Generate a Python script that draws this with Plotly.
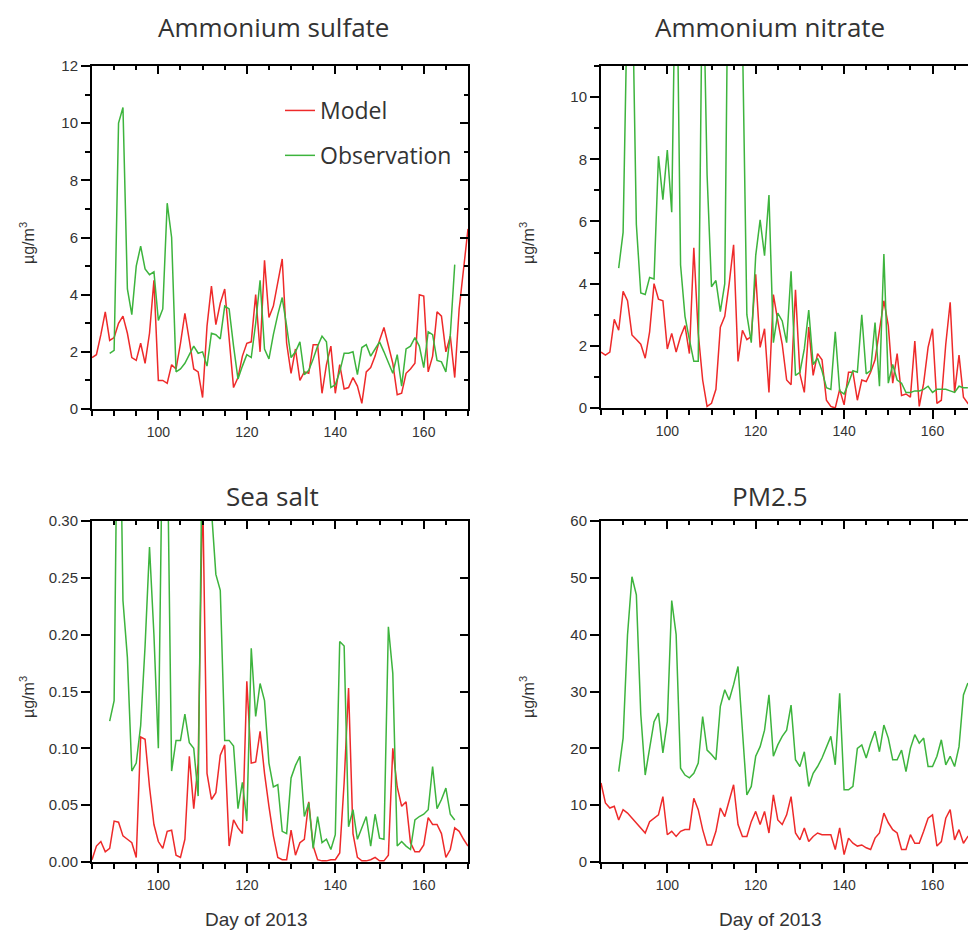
import plotly.graph_objects as go

W, H = 968, 931

# ---------------- data ----------------
model_days = list(range(85, 171))

sulfate_model = [1.8, 1.9, 2.6, 3.4, 2.4, 2.5, 3.0, 3.25, 2.65, 1.8,
                 1.7, 2.3, 1.6, 2.65, 4.5, 1.0, 1.0, 0.9, 1.55, 1.4,
                 2.3, 3.35, 2.4, 1.4, 1.3, 0.4, 2.9, 4.3, 2.95, 3.7,
                 4.2, 2.4, 0.75, 1.1, 1.85, 2.3, 2.35, 4.0, 2.0, 5.2,
                 3.2, 3.6, 4.4, 5.25, 2.3, 1.25, 2.1, 1.0, 1.3, 1.25,
                 2.25, 2.25, 0.55, 1.55, 2.2, 0.55, 1.55, 0.7, 0.75, 1.1,
                 0.8, 0.2, 1.3, 1.45, 1.85, 2.4, 2.85, 2.25, 1.6, 0.5,
                 0.55, 1.25, 1.4, 1.6, 4.0, 3.95, 1.3, 1.85, 3.4, 3.25,
                 2.0, 2.55, 1.1, 3.5, 5.0, 6.3]
sulfate_obs = [1.95, 2.05, 10.0, 10.55, 4.2, 3.3, 5.0, 5.7, 4.9, 4.7,
               4.8, 3.1, 3.5, 7.2, 6.0, 1.3, 1.4, 1.6, 1.9, 2.2,
               1.95, 2.0, 1.5, 2.65, 2.6, 2.45, 3.6, 3.5, 2.2, 1.05,
               1.5, 1.9, 1.8, 3.0, 4.5, 2.1, 1.75, 2.6, 3.3, 3.9,
               2.9, 1.8, 2.0, 2.35, 1.2, 1.35, 1.75, 2.2, 2.55, 2.35,
               0.75, 0.85, 1.3, 1.95, 1.95, 2.0, 1.2, 2.15, 2.25, 1.85,
               2.1, 2.35, 2.0, 1.6, 1.25, 1.9, 0.8, 2.1, 2.2,
               2.5, 2.2, 1.45, 2.7, 2.6, 1.7, 1.65, 1.3, 2.6, 5.05]

nitrate_model = [1.8, 1.7, 1.8, 2.85, 2.5, 3.75, 3.45, 2.35, 2.2, 2.05,
                 1.6, 2.45, 4.0, 3.5, 3.45, 1.9, 2.4, 1.8, 2.3, 2.65,
                 1.75, 5.15, 2.4, 0.9, 0.05, 0.15, 0.6, 2.6, 2.95, 4.0,
                 5.25, 1.5, 2.5, 2.2, 2.3, 4.3, 1.95, 2.55, 0.5, 3.65,
                 2.8, 2.05, 0.9, 0.75, 3.8, 1.1, 0.5, 2.6, 1.05, 1.75,
                 1.55, 0.25, 0.05, 0.0, 0.6, 0.1, 1.15, 1.15, 0.25, 0.9,
                 0.85, 1.15, 1.55, 2.55, 3.45, 2.65, 0.8, 1.75, 0.4, 0.45,
                 0.35, 2.15, 0.05, 0.8, 1.95, 2.55, 0.15, 0.25, 2.05, 3.4,
                 0.5, 1.7, 0.35, 0.15, 0.3, 0.5]
nitrate_obs = [4.5, 5.65, 13.5, 14.4, 5.9, 3.7, 3.65, 4.2, 4.15, 8.1,
               6.7, 8.3, 6.3, 16.0, 4.6, 2.95, 2.2, 1.5, 1.5, 15.0,
               7.5, 3.9, 4.1, 3.1, 4.0, 18.0, 20.0, 18.0, 12.0, 3.0,
               2.1, 4.9, 6.05, 4.9, 6.85, 2.1, 3.05, 2.8, 2.1, 4.4,
               1.05, 1.15, 1.9, 3.15, 1.4, 1.6, 1.2, 0.65, 0.6, 2.45,
               0.55, 0.45, 0.8, 1.2, 1.15, 3.0, 1.1, 1.2, 2.75, 0.7,
               4.95, 0.8, 1.4, 0.9, 0.8, 0.5, 0.5, 0.55, 0.55, 0.6,
               0.7, 0.5, 0.6, 0.6, 0.6, 0.55, 0.5, 0.7, 0.65, 0.65]

seasalt_model = [0.002, 0.014, 0.018, 0.009, 0.012, 0.036, 0.035, 0.023, 0.020, 0.017,
                 0.004, 0.110, 0.108, 0.066, 0.033, 0.018, 0.012, 0.027, 0.028, 0.006,
                 0.004, 0.020, 0.093, 0.047, 0.087, 0.33, 0.078, 0.055, 0.061, 0.094,
                 0.103, 0.014, 0.037, 0.030, 0.025, 0.159, 0.087, 0.088, 0.115, 0.078,
                 0.049, 0.023, 0.004, 0.002, 0.002, 0.028, 0.006, 0.017, 0.020, 0.053,
                 0.014, 0.002, 0.001, 0.001, 0.002, 0.002, 0.008, 0.07, 0.153, 0.025,
                 0.004, 0.001, 0.001, 0.002, 0.004, 0.001, 0.001, 0.006, 0.100, 0.066,
                 0.049, 0.053, 0.017, 0.009, 0.009, 0.015, 0.039, 0.033, 0.033, 0.025,
                 0.004, 0.011, 0.030, 0.027, 0.020, 0.014]
seasalt_obs = [0.124, 0.142, 0.5, 0.23, 0.18, 0.08, 0.087, 0.12, 0.19, 0.277,
               0.2, 0.1, 0.40, 0.38, 0.08, 0.107, 0.107, 0.13, 0.105, 0.1,
               0.058, 0.40, 0.45, 0.31, 0.253, 0.239, 0.107, 0.107, 0.102, 0.047,
               0.07, 0.036, 0.188, 0.128, 0.157, 0.142, 0.087, 0.066, 0.068, 0.027,
               0.025, 0.074, 0.085, 0.093, 0.04, 0.052, 0.012, 0.04, 0.017, 0.02,
               0.011, 0.024, 0.194, 0.19, 0.031, 0.046, 0.02, 0.03, 0.04, 0.014,
               0.042, 0.021, 0.02, 0.207, 0.166, 0.014, 0.018, 0.014, 0.011, 0.037,
               0.04, 0.042, 0.046, 0.084, 0.047, 0.055, 0.065, 0.042, 0.037]

pm25_model = [13.9, 10.4, 9.5, 9.8, 7.4, 9.2, 8.6, 7.7, 6.9, 6.0,
              5.1, 7.1, 7.7, 8.3, 11.5, 4.8, 5.4, 4.5, 5.4, 5.7,
              5.7, 11.2, 9.2, 5.7, 3.0, 3.0, 5.4, 9.5, 8.0, 10.7,
              13.6, 6.6, 4.5, 4.5, 7.1, 8.9, 6.6, 8.9, 5.1, 11.8,
              7.4, 6.6, 8.3, 11.5, 5.1, 3.9, 6.0, 3.6, 4.5, 5.1,
              4.8, 4.8, 4.8, 2.2, 6.0, 1.3, 4.2, 3.3, 2.8, 3.0,
              2.5, 2.2, 4.2, 5.1, 8.6, 6.9, 5.7, 5.1, 2.2, 2.2,
              4.8, 3.3, 3.3, 5.4, 7.7, 8.3, 2.8, 3.6, 7.7, 9.2,
              3.9, 5.7, 3.3, 4.5, 5.0, 6.0]
pm25_obs = [15.9, 21.8, 40.0, 50.2, 47.0, 26.0, 15.3, 20.3, 24.7, 26.2,
            19.2, 24.7, 46.0, 40.0, 16.5, 15.3, 14.8, 15.6, 17.4, 25.6,
            19.7, 18.9, 18.0, 27.4, 30.3, 28.5, 31.2, 34.4, 23.8, 11.8,
            13.3, 18.6, 20.3, 23.2, 29.4, 18.6, 20.6, 22.1, 23.2, 27.6,
            18.0, 16.8, 19.4, 13.3, 15.6, 16.8, 18.3, 20.3, 22.1, 17.1,
            29.7, 12.7, 12.7, 13.3, 20.0, 20.6, 18.3, 20.9, 23.0, 19.4,
            24.1, 21.8, 18.0, 18.0, 19.7, 15.9, 20.0, 22.4, 20.9, 21.8,
            16.8, 16.8, 18.6, 21.5, 17.1, 18.6, 16.8, 20.3, 29.4, 31.5]

obs_start_day = 89
panel_titles = ["Ammonium sulfate", "Ammonium nitrate", "Sea salt", "PM2.5"]
x_tickvals = [100, 120, 140, 160]
x_label = "Day of 2013"
y_label = "µg/m<sup>3</sup>"
series_names = ["Model", "Observation"]

# ---------------- styling / layout ----------------
RED = "#ee2a2a"
GREEN = "#3db43d"
TXT = "#333333"
TICKFONT = "Liberation Sans, Arial, sans-serif"
TITLEFONT = "Open Sans, sans-serif"

def px_x(p):
    return p / W

def px_y(p):
    return 1 - p / H

# panel geometry in pixels: (left, right, top, bottom)
panels = [
    dict(l=92, r=468, t=66, b=409, xr=[85, 170], yr=[0, 12], dy=2, minor_y=1, mirror_y=True,
         model=sulfate_model, obs=sulfate_obs, title_x=273, title_y=27, ylab_x=27, ylab_y=243),
    dict(l=601, r=968, t=66, b=408, xr=[85, 85 + 367 / 4.42], yr=[0, 11], dy=2, minor_y=1, mirror_y=False,
         model=nitrate_model, obs=nitrate_obs, title_x=770, title_y=27, ylab_x=527, ylab_y=243),
    dict(l=92, r=468, t=521, b=862, xr=[85, 170], yr=[0, 0.30], dy=0.05, minor_y=None, mirror_y=True,
         model=seasalt_model, obs=seasalt_obs, title_x=272, title_y=496, ylab_x=27, ylab_y=697),
    dict(l=601, r=968, t=521, b=862, xr=[85, 85 + 367 / 4.42], yr=[0, 60], dy=10, minor_y=None, mirror_y=False,
         model=pm25_model, obs=pm25_obs, title_x=770, title_y=496, ylab_x=527, ylab_y=697),
]

fig = go.Figure()
layout = {}
annotations = []

for i, p in enumerate(panels):
    n = i + 1
    xa = "x" if n == 1 else f"x{n}"
    ya = "y" if n == 1 else f"y{n}"
    xkey = "xaxis" if n == 1 else f"xaxis{n}"
    ykey = "yaxis" if n == 1 else f"yaxis{n}"

    obs_days = list(range(obs_start_day, obs_start_day + len(p["obs"])))
    fig.add_trace(go.Scatter(x=model_days, y=p["model"], mode="lines",
                             line=dict(color=RED, width=1.5), name=series_names[0],
                             legendgroup="m", showlegend=(n == 1), xaxis=xa, yaxis=ya))
    fig.add_trace(go.Scatter(x=obs_days, y=p["obs"], mode="lines",
                             line=dict(color=GREEN, width=1.5), name=series_names[1],
                             legendgroup="o", showlegend=(n == 1), xaxis=xa, yaxis=ya))

    xdom = [px_x(p["l"]), px_x(p["r"])]
    ydom = [px_y(p["b"]), px_y(p["t"])]

    layout[xkey] = dict(domain=xdom, anchor=ya, range=p["xr"], showgrid=False, zeroline=False,
                        automargin=False,
                        showline=True, linecolor="black", linewidth=2, mirror=True,
                        ticks="outside", ticklen=9, tickwidth=1.5, tickcolor="black",
                        tickvals=x_tickvals,
                        minor=dict(dtick=5, tick0=0, ticks="outside", ticklen=5, tickwidth=1.5,
                                   tickcolor="black", showgrid=False),
                        tickfont=dict(family=TICKFONT, size=14, color=TXT))
    ydict = dict(domain=ydom, anchor=xa, range=p["yr"], showgrid=False, zeroline=False,
                 automargin=False,
                 showline=True, linecolor="black", linewidth=2, mirror=p["mirror_y"],
                 ticks="outside", ticklen=9, tickwidth=1.5, tickcolor="black",
                 dtick=p["dy"], tick0=0,
                 tickfont=dict(family=TICKFONT, size=15, color=TXT))
    if p["dy"] == 0.05:
        ydict["tickformat"] = ".2f"
    if p["minor_y"]:
        ydict["minor"] = dict(dtick=p["minor_y"], tick0=0, ticks="outside", ticklen=5,
                              tickwidth=1.5, tickcolor="black", showgrid=False)
    layout[ykey] = ydict

    # top (inside ticks) overlay axis
    tn = n + 4
    layout[f"xaxis{tn}"] = dict(overlaying=xa, side="top", anchor=ya, range=p["xr"],
                                automargin=False,
                                showgrid=False, zeroline=False, showline=False,
                                showticklabels=False, ticks="inside", ticklen=8, tickwidth=1.5,
                                tickcolor="black", tickvals=x_tickvals,
                                minor=dict(dtick=5, tick0=0, ticks="inside", ticklen=4,
                                           tickwidth=1.5, tickcolor="black", showgrid=False))
    fig.add_trace(go.Scatter(x=[], y=[], xaxis=f"x{tn}", yaxis=ya, showlegend=False))
    if p["mirror_y"]:
        rd = dict(overlaying=ya, side="right", anchor=xa, range=p["yr"],
                  automargin=False,
                  showgrid=False, zeroline=False, showline=False,
                  showticklabels=False, ticks="inside", ticklen=8, tickwidth=1.5,
                  tickcolor="black", dtick=p["dy"], tick0=0)
        if p["minor_y"]:
            rd["minor"] = dict(dtick=p["minor_y"], tick0=0, ticks="inside", ticklen=4,
                               tickwidth=1.5, tickcolor="black", showgrid=False)
        layout[f"yaxis{tn}"] = rd
        fig.add_trace(go.Scatter(x=[], y=[], xaxis=xa, yaxis=f"y{tn}", showlegend=False))

    annotations.append(dict(text=panel_titles[i], x=px_x(p["title_x"]), y=px_y(p["title_y"]),
                            xref="paper", yref="paper", xanchor="center", yanchor="middle",
                            showarrow=False, font=dict(family=TITLEFONT, size=26, color=TXT)))
    annotations.append(dict(text=y_label, x=px_x(p["ylab_x"]), y=px_y(p["ylab_y"]),
                            xref="paper", yref="paper", xanchor="center", yanchor="middle",
                            textangle=-90, showarrow=False,
                            font=dict(family=TICKFONT, size=16, color=TXT)))

for cx in (256, 770):
    annotations.append(dict(text=x_label, x=px_x(cx), y=px_y(919), xref="paper", yref="paper",
                            xanchor="center", yanchor="middle", showarrow=False,
                            font=dict(family=TICKFONT, size=19, color=TXT)))

fig.update_layout(
    template="none",
    width=W, height=H,
    margin=dict(l=0, r=0, t=0, b=0, autoexpand=False),
    paper_bgcolor="white", plot_bgcolor="white",
    annotations=annotations,
    legend=dict(x=px_x(280), y=px_y(89), xanchor="left", yanchor="top",
                bgcolor="rgba(0,0,0,0)", borderwidth=0, itemwidth=30,
                traceorder="grouped", tracegroupgap=12,
                font=dict(family=TITLEFONT, size=23, color=TXT)),
    **layout,
)

# remove the browser's default 8px page margin so the figure sits at the window origin
fig.write_html("out.html",
               config={"displayModeBar": False},
               post_script="document.body.style.margin='0';document.body.style.overflow='hidden';")
